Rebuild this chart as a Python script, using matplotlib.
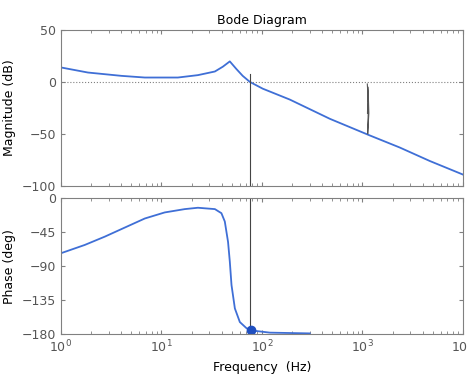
import matplotlib.pyplot as plt
import numpy as np

# magnitude response
mag_freq = [1, 1.86, 4.02, 6.85, 14.6, 23.1, 34.1, 40.9, 48, 55.9, 64.5, 76, 102,
            190, 476, 1190, 2350, 4690, 10000]
mag_db = [13.9, 9, 5.8, 4.2, 4.2, 6.5, 10, 14.6, 19.7, 12.3, 5.8, 0, -6.5,
          -17, -35.5, -51.5, -63, -76, -89]

# phase response
ph_freq = [1, 1.73, 2.74, 4.33, 6.85, 10.8, 17.1, 23.1, 34.1, 39.6, 42.8, 46.1, 48,
           49.9, 53.9, 60.4, 70.2, 78, 120, 300]
ph_deg = [-73, -62, -51, -39, -27, -19, -14.6, -12.8, -14.6, -20, -31, -58, -84,
          -115, -146, -164, -172, -175, -178, -179]

cross_freq = 77       # vertical marker line
marker_freq = 78      # dot on phase curve
marker_phase = -175

scribble_f = [1120, 1150, 1130, 1160, 1140, 1125]
scribble_db = [-2, -20, -50, -30, -5, -30]

blue = '#3f6fd6'
gray = '#808080'

fig = plt.figure(figsize=(4.68, 3.78), dpi=100)
ax1 = fig.add_axes([0.130, 0.508, 0.859, 0.413])
ax2 = fig.add_axes([0.130, 0.116, 0.859, 0.360])

for ax in (ax1, ax2):
    ax.set_xscale('log')
    ax.set_xlim(1, 1e4)
    ax.tick_params(which='both', direction='in', top=True, right=True,
                   colors=gray, labelcolor='#555555', labelsize=9)
    ax.tick_params(which='major', length=3)
    ax.tick_params(which='minor', length=2)
    for s in ax.spines.values():
        s.set_color(gray)
        s.set_linewidth(0.8)

ax1.plot(mag_freq, mag_db, color=blue, lw=1.3)
ax1.axhline(0, color=gray, lw=0.8, ls=':')
ax1.plot([cross_freq, cross_freq], [8, -100], color='#444444', lw=0.8)
ax1.plot(scribble_f, scribble_db, color='#555555', lw=0.8)
ax1.set_ylim(-100, 50)
ax1.set_yticks([50, 0, -50, -100])
ax1.tick_params(labelbottom=False)
ax1.set_ylabel('Magnitude (dB)', fontsize=9)
ax1.set_title('Bode Diagram', fontsize=9, pad=4)

ax2.plot(ph_freq, ph_deg, color=blue, lw=1.3)
ax2.axvline(cross_freq, color='#444444', lw=0.8)
ax2.plot(marker_freq, marker_phase, 'o', color='#1f4fc0', ms=6)
ax2.set_ylim(-180, 0)
ax2.set_yticks([0, -45, -90, -135, -180])
ax2.set_ylabel('Phase (deg)', fontsize=9)
ax2.set_xlabel('Frequency  (Hz)', fontsize=9)

fig.savefig('out.png', dpi=100)
